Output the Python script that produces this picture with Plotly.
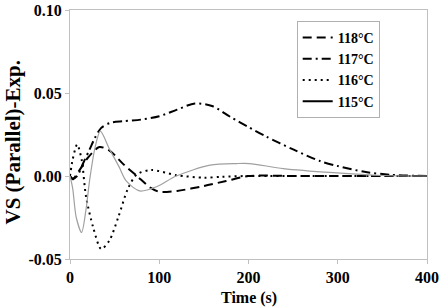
import plotly.graph_objects as go

# Data
t118 = [0, 3, 10, 20, 33, 45, 60, 75, 90, 100, 120, 150, 175, 200, 250, 300, 350, 400]
v118 = [0, -0.002, 0.003, 0.011, 0.0175, 0.015, 0.007, 0.000, -0.007, -0.0095, -0.009, -0.006, -0.003, 0, 0, 0, 0, 0]

t117 = [0, 3, 8, 15, 22, 28, 35, 45, 60, 80, 100, 120, 140, 160, 180, 200, 220, 250, 280, 300, 330, 360, 400]
v117 = [0, -0.0015, 0.0, 0.008, 0.016, 0.023, 0.029, 0.032, 0.033, 0.034, 0.036, 0.040, 0.0437, 0.042, 0.0355, 0.0295, 0.0237, 0.016, 0.009, 0.006, 0.0025, 0.0007, 0]

t116 = [0, 3, 8, 13, 18, 26, 35, 44, 54, 65, 75, 91, 119, 150, 170, 200, 300, 400]
v116 = [0, 0.010, 0.019, 0.010, -0.0125, -0.031, -0.044, -0.039, -0.025, -0.0075, 0.001, 0.0036, 0.0005, -0.001, -0.0005, 0, 0, 0]

t115 = [0, 3, 7, 13, 18, 22, 28, 34, 44, 55, 63, 78, 97, 119, 157, 187, 201, 239, 295, 350, 400]
v115 = [0, -0.0075, -0.025, -0.034, -0.020, -0.0025, 0.017, 0.027, 0.0165, 0.0055, -0.003, -0.009, -0.0065, 0.0, 0.0065, 0.0075, 0.0075, 0.0045, 0.002, 0.0003, 0]

labels = ["118°C", "117°C", "116°C", "115°C"]

xticks = [0, 100, 200, 300, 400]
yticks = [-0.05, 0.00, 0.05, 0.10]
yticktext = ["-0.05", "0.00", "0.05", "0.10"]

x_title = "Time (s)"
y_title = "VS (Parallel)-Exp."

font = "Liberation Serif"

fig = go.Figure()
fig.add_trace(go.Scatter(x=t118, y=v118, mode="lines", name=labels[0],
                         line=dict(color="black", width=2, dash="9px,5px", shape="spline", smoothing=0.8)))
fig.add_trace(go.Scatter(x=t117, y=v117, mode="lines", name=labels[1],
                         line=dict(color="black", width=2, dash="9px,4px,2px,4px", shape="spline", smoothing=0.8)))
fig.add_trace(go.Scatter(x=t116, y=v116, mode="lines", name=labels[2],
                         line=dict(color="black", width=2, dash="2px,4px", shape="spline", smoothing=0.8)))
fig.add_trace(go.Scatter(x=t115, y=v115, mode="lines", name=labels[3], showlegend=False,
                         line=dict(color="#a0a0a0", width=1.2, shape="spline", smoothing=0.8)))
fig.add_trace(go.Scatter(x=[None], y=[None], mode="lines", name=labels[3],
                         line=dict(color="black", width=2)))

fig.update_layout(
    width=444, height=308,
    margin=dict(l=70, r=17, t=10, b=49, autoexpand=False),
    paper_bgcolor="white", plot_bgcolor="white",
    font=dict(family=font, size=14, color="black"),
    showlegend=True,
    legend=dict(x=0.635, y=0.956, xanchor="left", yanchor="top",
                bgcolor="white", bordercolor="#b0b0b0", borderwidth=1,
                font=dict(family=font, size=14, color="black", weight="bold"),
                itemwidth=30, tracegroupgap=0),
    annotations=[
        dict(text="<b>" + y_title + "</b>", xref="paper", yref="paper", x=-0.161, y=0.466,
             xanchor="center", yanchor="middle", textangle=-90, showarrow=False,
             font=dict(family=font, size=21, color="black")),
        dict(text="<b>" + x_title + "</b>", xref="paper", yref="paper", x=0.5, y=-0.158,
             xanchor="center", yanchor="middle", showarrow=False,
             font=dict(family=font, size=16, color="black")),
    ],
)
fig.update_xaxes(range=[0, 400], tickvals=xticks, showgrid=False, zeroline=False,
                 showline=True, linecolor="#c0c0c0", linewidth=1, mirror=True,
                 ticks="outside", ticklen=4, tickcolor="#c0c0c0", automargin=False,
                 tickfont=dict(family=font, size=16, weight="bold"))
fig.update_yaxes(range=[-0.05, 0.10], tickvals=yticks, ticktext=yticktext, showgrid=False, zeroline=False,
                 showline=True, linecolor="#c0c0c0", linewidth=1, mirror=True,
                 ticks="outside", ticklen=4, tickcolor="#c0c0c0", automargin=False,
                 tickfont=dict(family=font, size=16, weight="bold"))

fig.write_html("out.html", config={"displayModeBar": False},
               post_script="document.body.style.margin='0';document.body.style.overflow='hidden';")
